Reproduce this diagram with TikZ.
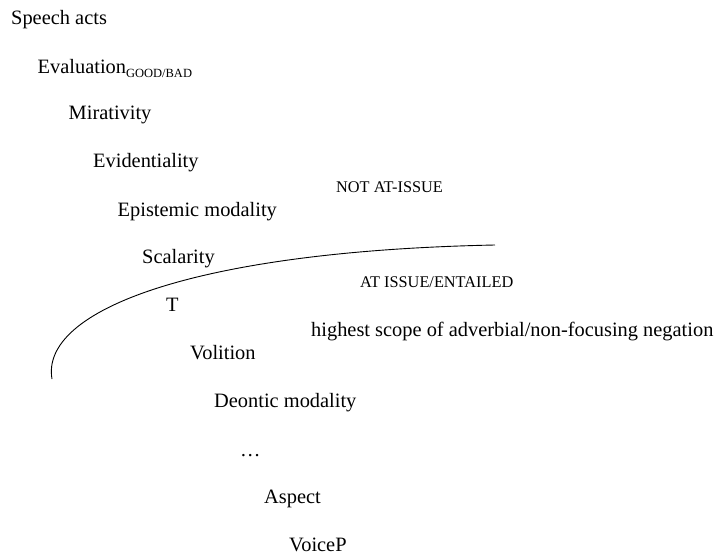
\documentclass[tikz,border=0pt]{standalone}
\usepackage{fontspec}
\setmainfont{Liberation Serif}
\usepackage{tikz}

\newcommand{\bigtext}{\fontsize{20.4}{24}\selectfont}
\newcommand{\capstext}{\fontsize{16.3}{19}\selectfont}
\newcommand{\subtext}[1]{\raisebox{-4pt}{\fontsize{12.5}{14}\selectfont #1}}

\begin{document}
\begin{tikzpicture}[x=1pt,y=1pt]
	\tikzstyle{every node}+=[inner sep=0pt, anchor=base west]
	\tikzstyle{proj}=[font=\bigtext]
	\tikzstyle{tier}=[font=\capstext]
	\useasboundingbox (0,0) rectangle (716,-554);
	% the functional sequence
	\node [proj] (speech) at (11,-24) {Speech acts};
	\node [proj] (evaluation) at (37.5,-73) {Evaluation\subtext{GOOD/BAD}};
	\node [proj] (mirativity) at (68.5,-119) {Mirativity};
	\node [proj] (evidentiality) at (93,-167) {Evidentiality};
	\node [proj] (epistemic) at (117.5,-216) {Epistemic modality};
	\node [proj] (scalarity) at (142,-263.5) {Scalarity};
	\node [proj] (tense) at (166,-311.5) {T};
	\node [proj] (volition) at (190,-359) {Volition};
	\node [proj] (deontic) at (214,-407.5) {Deontic modality};
	\node [proj] (dots) at (240,-456) {\dots};
	\node [proj] (aspect) at (264,-503.5) {Aspect};
	\node [proj] (voice) at (289,-551) {VoiceP};
	% tiers
	\node [tier] (notatissue) at (336,-192.7) {NOT AT-ISSUE};
	\node [tier] (atissue) at (360,-287.5) {AT ISSUE/ENTAILED};
	\node [proj] (negation) at (311,-336) {highest scope of adverbial/non-focusing negation};
	% the boundary
	\coordinate (arcstart) at (52,-379);
	\coordinate (arcend) at (495,-245);
	\draw [black, line width=0.9pt] (arcstart) .. controls (40,-310) and (195,-251) .. (arcend);
\end{tikzpicture}
\end{document}
